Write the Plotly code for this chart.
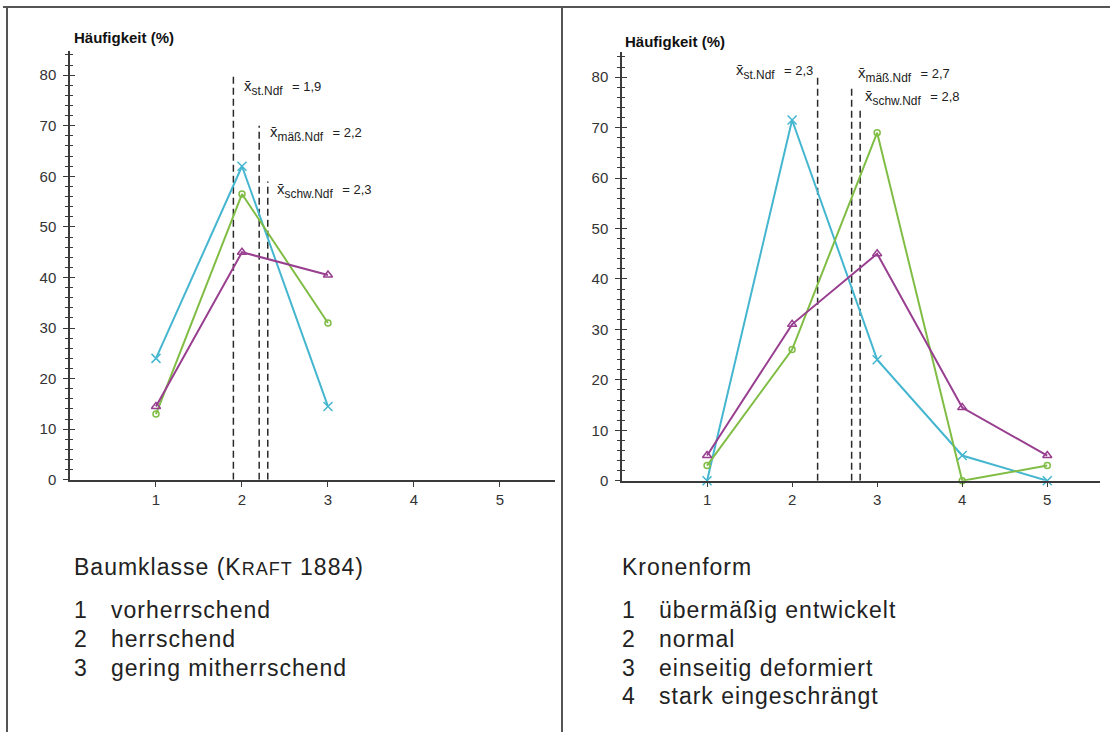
import plotly.graph_objects as go

# Baumklasse (links)
klassen_x = [1, 2, 3]
st_baum = [24, 62, 14.5]
maess_baum = [13, 56.5, 31]
schw_baum = [14.5, 45, 40.5]
mittel_baum = [1.9, 2.2, 2.3]
mittel_baum_top = [80, 70, 59]
mittel_baum_text = ["1,9", "2,2", "2,3"]

# Kronenform (rechts)
kronen_x = [1, 2, 3, 4, 5]
st_krone = [0, 71.5, 24, 5, 0]
maess_krone = [3, 26, 69, 0, 3]
schw_krone = [5, 31, 45, 14.5, 5]
mittel_krone = [2.3, 2.7, 2.8]
mittel_krone_top = [80, 78, 74]
mittel_krone_text = ["2,3", "2,7", "2,8"]

gruppen = ["st.Ndf", "mäß.Ndf", "schw.Ndf"]
y_ticks = [0, 10, 20, 30, 40, 50, 60, 70, 80]

baum_klassen = ["vorherrschend", "herrschend", "gering mitherrschend"]
kronen_klassen = ["übermäßig entwickelt", "normal", "einseitig deformiert", "stark eingeschrängt"]

CYAN = "#45b6cf"
GREEN = "#80bd45"
PURPLE = "#983f90"
AXIS = "#3a3a3a"
FONT = "Liberation Sans, Arial, sans-serif"

W, H = 1110, 740

fig = go.Figure()

styles = [
    (CYAN, "x-thin-open", 9),
    (GREEN, "circle-open", 6),
    (PURPLE, "triangle-up-open", 8),
]


def add_series(xs, series, xa, ya):
    for (color, symbol, size), ys in zip(styles, series):
        fig.add_trace(go.Scatter(
            x=xs, y=ys, mode="lines+markers", xaxis=xa, yaxis=ya,
            line=dict(color=color, width=2),
            marker=dict(symbol=symbol, size=size, color=color,
                        line=dict(color=color, width=1.5)),
            cliponaxis=False, showlegend=False, hoverinfo="skip"))


def add_means(means, tops, xa, ya):
    for m, t in zip(means, tops):
        fig.add_trace(go.Scatter(
            x=[m, m], y=[0, t], mode="lines", xaxis=xa, yaxis=ya,
            line=dict(color="#2a2a2a", width=1.5, dash="7px,4px"),
            cliponaxis=False, showlegend=False, hoverinfo="skip"))


add_means(mittel_baum, mittel_baum_top, "x", "y")
add_series(klassen_x, [st_baum, maess_baum, schw_baum], "x", "y")
add_means(mittel_krone, mittel_krone_top, "x2", "y2")
add_series(kronen_x, [st_krone, maess_krone, schw_krone], "x2", "y2")

# leere traces, damit die Overlay-Achsen (innere Tick-Hälfte) gezeichnet werden
fig.add_trace(go.Scatter(x=[None], y=[None], xaxis="x", yaxis="y3", showlegend=False))
fig.add_trace(go.Scatter(x=[None], y=[None], xaxis="x2", yaxis="y4", showlegend=False))

TICKFONT = dict(family=FONT, size=15, color="#333333")


def yax(domain, anchor, rng, labels=True, ticks="outside", overlay=None):
    d = dict(
        domain=domain, anchor=anchor, range=rng, tickvals=y_ticks,
        showgrid=False, zeroline=False, showline=True, linecolor=AXIS, linewidth=1.5,
        ticks=ticks, ticklen=5, tickwidth=1.2, tickcolor=AXIS,
        minor=dict(dtick=2, ticks=ticks, ticklen=3, tickwidth=1, tickcolor=AXIS),
        showticklabels=labels, ticklabelstandoff=4, tickfont=TICKFONT,
    )
    if overlay:
        d["overlaying"] = overlay
        d["side"] = "left"
    return d


def xax(domain, anchor, rng):
    return dict(
        domain=domain, anchor=anchor, range=rng, tickvals=[1, 2, 3, 4, 5],
        showgrid=False, zeroline=False, showline=True, linecolor=AXIS, linewidth=1.5,
        ticks="outside", ticklen=5, tickwidth=1.2, tickcolor=AXIS, tickfont=TICKFONT,
    )


ld = [70 / W, 555 / W]
lyd = [(H - 485) / H, (H - 52) / H]
rd = [622 / W, 1100 / W]
ryd = [(H - 486) / H, (H - 53) / H]
lyr = [0, 84.7]
ryr = [0, 84.9]

fig.update_layout(
    width=W, height=H, margin=dict(l=0, r=0, t=0, b=0),
    paper_bgcolor="white", plot_bgcolor="white", showlegend=False,
    xaxis=xax(ld, "y", [0, 5.64]),
    yaxis=yax(lyd, "x", lyr),
    xaxis2=xax(rd, "y2", [0, 5.62]),
    yaxis2=yax(ryd, "x2", ryr),
    yaxis3=yax(lyd, "x", lyr, labels=False, ticks="inside", overlay="y"),
    yaxis4=yax(ryd, "x2", ryr, labels=False, ticks="inside", overlay="y2"),
)

ann = []


def mean_label(g, val):
    return (f"<span style='font-size:15px'>x\u0304</span><sub>{g}</sub>"
            f"\u00a0\u00a0<span style='font-size:13px'>= {val}</span>")


LABEL_FONT = dict(family=FONT, size=17, color="#222222")

# Mittelwert-Beschriftungen links
left_pos = [(77.7, 9), (68.5, 9), (57.3, 7)]
for g, m, v, (yy, xs) in zip(gruppen, mittel_baum, mittel_baum_text, left_pos):
    ann.append(dict(x=m, y=yy, xref="x", yref="y", text=mean_label(g, v),
                    showarrow=False, xanchor="left", yanchor="middle", xshift=xs,
                    font=LABEL_FONT))

# Mittelwert-Beschriftungen rechts
right_pos = [(81.2, -3, "right"), (80.6, 4, "left"), (76.1, 3, "left")]
for g, m, v, (yy, xs, xa) in zip(gruppen, mittel_krone, mittel_krone_text, right_pos):
    ann.append(dict(x=m, y=yy, xref="x2", yref="y2", text=mean_label(g, v),
                    showarrow=False, xanchor=xa, yanchor="middle", xshift=xs,
                    font=LABEL_FONT))

for px_x, px_y in [(72, 38), (623, 42)]:
    ann.append(dict(x=px_x / W, y=1 - px_y / H, xref="paper", yref="paper",
                    text="<b>Häufigkeit (%)</b>", showarrow=False,
                    xanchor="left", yanchor="middle",
                    font=dict(family=FONT, size=15, color="#111111")))


def spaced(t):
    return f"<span style='letter-spacing:1px'>{t}</span>"


text_font = dict(family=FONT, size=23, color="#222222")
titles = [(72, "Baumklasse (K<span style='font-size:18px'>RAFT</span> 1884)", baum_klassen),
          (620, "Kronenform", kronen_klassen)]
for x0, title, items in titles:
    ann.append(dict(x=x0 / W, y=1 - 573 / H, xref="paper", yref="paper", text=spaced(title),
                    showarrow=False, xanchor="left", yanchor="middle", font=text_font))
    for i, item in enumerate(items):
        yy = 1 - (617 + 29 * i) / H
        ann.append(dict(x=x0 / W, y=yy, xref="paper", yref="paper", text=str(i + 1),
                        showarrow=False, xanchor="left", yanchor="middle", font=text_font))
        ann.append(dict(x=(x0 + 37) / W, y=yy, xref="paper", yref="paper", text=spaced(item),
                        showarrow=False, xanchor="left", yanchor="middle", font=text_font))

fig.update_layout(annotations=ann)

# Rahmen
frame = dict(color="#555555", width=2)
fig.add_shape(type="line", xref="paper", yref="paper", x0=3 / W, x1=1, y0=1 - 7 / H, y1=1 - 7 / H, line=frame)
fig.add_shape(type="line", xref="paper", yref="paper", x0=7 / W, x1=7 / W, y0=0, y1=1 - 7 / H, line=frame)
fig.add_shape(type="line", xref="paper", yref="paper", x0=562 / W, x1=562 / W, y0=0, y1=1 - 7 / H, line=frame)

fig.write_html("out.html", config={"displayModeBar": False},
               post_script="document.body.style.margin='0px';")
